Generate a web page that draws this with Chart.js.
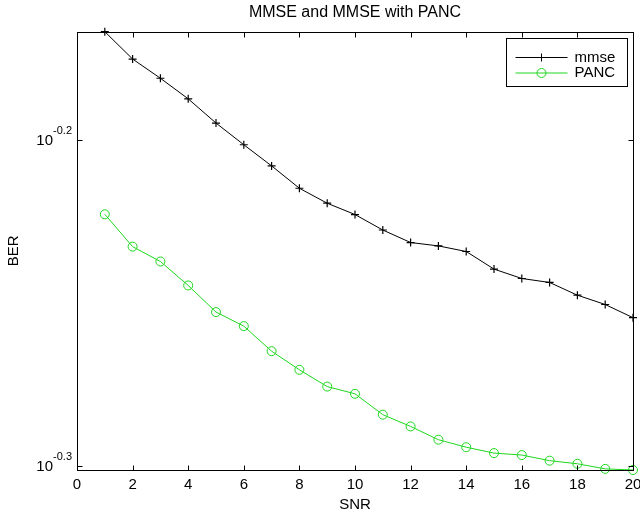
<!DOCTYPE html>
<html>
<head>
<meta charset="utf-8">
<script src="https://cdn.jsdelivr.net/npm/chart.js@4"></script>
<style>
  html, body { margin:0; padding:0; background:#fff; }
  #wrap { width:640px; height:518px; }
</style>
</head>
<body>
<div id="wrap"><canvas id="c"></canvas></div>
<script>
// values
const snr = [1,2,3,4,5,6,7,8,9,10,11,12,13,14,15,16,17,18,19,20];
const mmse = [0.681,0.668,0.659,0.6495,0.6385,0.6288,0.6195,0.6098,0.6034,0.5986,0.5921,0.5869,0.5855,0.5832,0.5760,0.5722,0.5706,0.5655,0.5618,0.5566];
const panc = [0.5987,0.5852,0.5791,0.5694,0.5588,0.5533,0.5436,0.5365,0.5302,0.5275,0.5198,0.5155,0.5107,0.5080,0.5059,0.5052,0.5032,0.5021,0.5003,0.4999];
const xTicks = [0,2,4,6,8,10,12,14,16,18,20];
const yExp = [-0.3, -0.2];

const FONT = "'Liberation Sans', Arial, sans-serif";
const GREEN = "rgb(30,215,30)";

const pts = (ys) => snr.map((x, i) => ({ x, y: ys[i] }));

// MATLAB-style box, inward ticks, superscript y labels and legend
const matlabFrame = {
  id: "matlabFrame",
  afterDraw(chart){
    const ctx = chart.ctx;
    const a = chart.chartArea;
    const xs = chart.scales.x, ys = chart.scales.y;
    const L = Math.round(a.left) + 0.5, R = Math.round(a.right) + 0.5;
    const T = Math.round(a.top) + 0.5, B = Math.round(a.bottom) + 0.5;
    ctx.save();
    ctx.strokeStyle = "#000";
    ctx.lineWidth = 1;
    ctx.strokeRect(L, T, R - L, B - T);
    ctx.beginPath();
    xTicks.forEach(v => {
      const px = Math.round(xs.getPixelForValue(v)) + 0.5;
      ctx.moveTo(px, B); ctx.lineTo(px, B - 5);
      ctx.moveTo(px, T); ctx.lineTo(px, T + 5);
    });
    yExp.forEach(e => {
      const py = Math.round(ys.getPixelForValue(Math.pow(10, e))) + 0.5;
      ctx.moveTo(L, py); ctx.lineTo(L + 5, py);
      ctx.moveTo(R, py); ctx.lineTo(R - 5, py);
    });
    ctx.stroke();

    // y tick labels 10^e
    ctx.fillStyle = "#000";
    ctx.textBaseline = "middle";
    yExp.forEach(e => {
      const py = ys.getPixelForValue(Math.pow(10, e));
      ctx.font = "11px " + FONT;
      const sup = e.toFixed(1);
      const sw = ctx.measureText(sup).width;
      const right = a.left - 5;
      ctx.textAlign = "left";
      ctx.fillText(sup, right - sw, py - 9);
      ctx.font = "15px " + FONT;
      ctx.textAlign = "right";
      ctx.fillText("10", right - sw, py + 0.5);
    });

    // legend
    const bw = 121, bh = 48;
    const bx = Math.round(a.right - 6 - bw) + 0.5, by = Math.round(a.top + 6) + 0.5;
    ctx.fillStyle = "#fff";
    ctx.fillRect(bx, by, bw, bh);
    ctx.strokeStyle = "#000";
    ctx.strokeRect(bx, by, bw, bh);
    chart.data.datasets.forEach((ds, i) => {
      const ly = by + 19 + i * 15.5;
      const lx0 = bx + 9, lx1 = bx + 61, mx = (lx0 + lx1) / 2;
      ctx.strokeStyle = ds.borderColor;
      ctx.lineWidth = 1;
      ctx.beginPath();
      ctx.moveTo(lx0, ly); ctx.lineTo(lx1, ly);
      ctx.stroke();
      ctx.beginPath();
      if(ds.pointStyle === "cross"){
        ctx.moveTo(mx - 4, ly); ctx.lineTo(mx + 4, ly);
        ctx.moveTo(mx, ly - 4); ctx.lineTo(mx, ly + 4);
      } else {
        ctx.arc(mx, ly, 4.5, 0, Math.PI * 2);
      }
      ctx.stroke();
      ctx.fillStyle = "#000";
      ctx.font = "15px " + FONT;
      ctx.textAlign = "left";
      ctx.textBaseline = "middle";
      ctx.fillText(ds.label, bx + 68, ly);
    });
    ctx.restore();
  }
};

new Chart(document.getElementById("c"), {
  type: "line",
  data: {
    datasets: [
      { label: "mmse", data: pts(mmse), borderColor: "#000", backgroundColor: "#000",
        borderWidth: 1, pointStyle: "cross", pointRadius: 4, pointBorderWidth: 1.2,
        pointBorderColor: "#000", tension: 0, clip: false },
      { label: "PANC", data: pts(panc), borderColor: GREEN, backgroundColor: "transparent",
        borderWidth: 1, pointStyle: "circle", pointRadius: 4.5, pointBorderWidth: 1,
        pointBorderColor: GREEN, pointBackgroundColor: "transparent", tension: 0, clip: false }
    ]
  },
  options: {
    responsive: true,
    maintainAspectRatio: false,
    animation: false,
    events: [],
    layout: { padding: { left: 0, right: 7, top: 0, bottom: 0 } },
    plugins: {
      legend: { display: false },
      tooltip: { enabled: false },
      title: {
        display: true,
        fullSize: false,
        text: "MMSE and MMSE with PANC",
        color: "#000",
        font: { family: FONT, size: 16, weight: "normal", lineHeight: 1.2 },
        padding: { top: 3, bottom: 9.5 }
      }
    },
    scales: {
      x: {
        type: "linear",
        min: 0, max: 20,
        grid: { display: false, drawTicks: false },
        border: { display: false },
        ticks: { stepSize: 2, color: "#000", padding: 6, maxRotation: 0,
                 font: { family: FONT, size: 15 } },
        title: { display: true, text: "SNR", color: "#000",
                 font: { family: FONT, size: 15, lineHeight: 1.2 }, padding: { top: 0, bottom: 4 } },
        afterFit(s){ s.height = 48; s.paddingLeft = 0; s.paddingRight = 0; }
      },
      y: {
        type: "logarithmic",
        min: 0.4999, max: 0.681,
        grid: { display: false, drawTicks: false },
        border: { display: false },
        ticks: { display: false },
        afterBuildTicks(s){ s.ticks = yExp.map(e => ({ value: Math.pow(10, e) })); },
        title: { display: true, text: "BER", color: "#000",
                 font: { family: FONT, size: 15, lineHeight: 1.2 }, padding: { top: 5, bottom: 0 } },
        afterFit(s){ s.width = 77; s.paddingTop = 0; s.paddingBottom = 0; }
      }
    }
  },
  plugins: [matlabFrame]
});
</script>
</body>
</html>
